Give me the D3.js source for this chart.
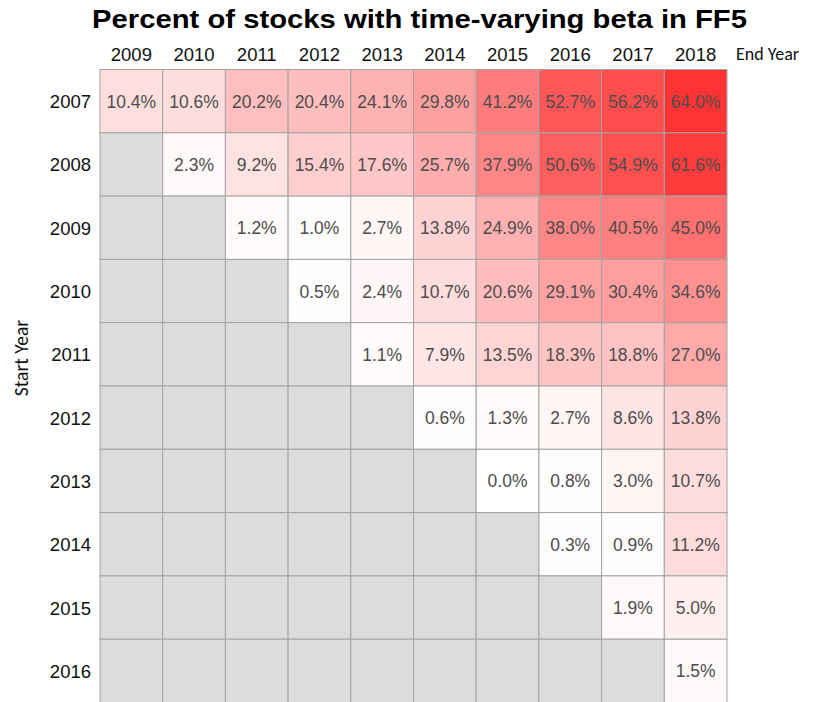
<!DOCTYPE html>
<html><head><meta charset="utf-8">
<script src="https://cdn.jsdelivr.net/npm/d3@7"></script>
<style>body{margin:0;background:#fff}</style>
</head><body>
<svg id="chart" width="814" height="702"></svg>
<script>
const title = "Percent of stocks with time-varying beta in FF5";
const endYears = ["2009","2010","2011","2012","2013","2014","2015","2016","2017","2018"];
const startYears = ["2007","2008","2009","2010","2011","2012","2013","2014","2015","2016"];
const row2007 = [10.4,10.6,20.2,20.4,24.1,29.8,41.2,52.7,56.2,64.0];
const row2008 = [null,2.3,9.2,15.4,17.6,25.7,37.9,50.6,54.9,61.6];
const row2009 = [null,null,1.2,1.0,2.7,13.8,24.9,38.0,40.5,45.0];
const row2010 = [null,null,null,0.5,2.4,10.7,20.6,29.1,30.4,34.6];
const row2011 = [null,null,null,null,1.1,7.9,13.5,18.3,18.8,27.0];
const row2012 = [null,null,null,null,null,0.6,1.3,2.7,8.6,13.8];
const row2013 = [null,null,null,null,null,null,0.0,0.8,3.0,10.7];
const row2014 = [null,null,null,null,null,null,null,0.3,0.9,11.2];
const row2015 = [null,null,null,null,null,null,null,null,1.9,5.0];
const row2016 = [null,null,null,null,null,null,null,null,null,1.5];
const rows = [row2007,row2008,row2009,row2010,row2011,row2012,row2013,row2014,row2015,row2016];

const cells = [];
rows.forEach((r,i)=>r.forEach((v,j)=>cells.push({s:startYears[i], e:endYears[j], v})));

const svg = d3.select("#chart");
const gLeft=100, gRight=727, gTop=69.5, rowH=63.3;
const x = d3.scaleBand().domain(endYears).range([gLeft,gRight]);
const y = d3.scaleBand().domain(startYears).range([gTop, gTop+rowH*startYears.length]);
const color = d3.scaleLinear().domain([0,64]).range(["#ffffff","#ff3333"]);

svg.append("g").selectAll("rect").data(cells).join("rect")
  .attr("x", d=>x(d.e)).attr("y", d=>y(d.s))
  .attr("width", x.bandwidth()).attr("height", y.bandwidth())
  .attr("fill", d=>d.v==null ? "#dcdcdc" : color(d.v))
  .attr("stroke", "#a3a3a3").attr("stroke-width", 1);

svg.append("g").selectAll("text").data(cells.filter(d=>d.v!=null)).join("text")
  .attr("x", d=>x(d.e)+x.bandwidth()/2).attr("y", d=>y(d.s)+y.bandwidth()/2+6.5)
  .attr("text-anchor","middle")
  .attr("font-family","'Liberation Sans', Arial, sans-serif").attr("font-size",17.5)
  .attr("fill","#4d4d4d")
  .text(d=>d.v.toFixed(1)+"%");

// column labels
svg.append("g").selectAll("text").data(endYears).join("text")
  .attr("x", d=>x(d)+x.bandwidth()/2).attr("y", 61)
  .attr("text-anchor","middle")
  .attr("font-family","'Liberation Sans', Arial, sans-serif").attr("font-size",18.5)
  .attr("fill","#111").text(d=>d);

// row labels
svg.append("g").selectAll("text").data(startYears).join("text")
  .attr("x", 91).attr("y", d=>y(d)+y.bandwidth()/2+7)
  .attr("text-anchor","end")
  .attr("font-family","'Liberation Sans', Arial, sans-serif").attr("font-size",18.5)
  .attr("fill","#111").text(d=>d);

svg.append("text").attr("x",736).attr("y",60)
  .attr("font-family","Carlito, Lato, sans-serif").attr("font-size",18)
  .attr("fill","#111").text("End Year");

svg.append("text").attr("transform","translate(28,358) rotate(-90)")
  .attr("text-anchor","middle")
  .attr("font-family","Carlito, Lato, sans-serif").attr("font-size",19.5)
  .attr("fill","#111").text("Start Year");

svg.append("text").attr("x",92).attr("y",28)
  .attr("font-family","'Liberation Sans', Arial, sans-serif").attr("font-weight","bold")
  .attr("font-size",26).attr("fill","#000")
  .attr("textLength",655).attr("lengthAdjust","spacingAndGlyphs")
  .text(title);
</script>
</body></html>
